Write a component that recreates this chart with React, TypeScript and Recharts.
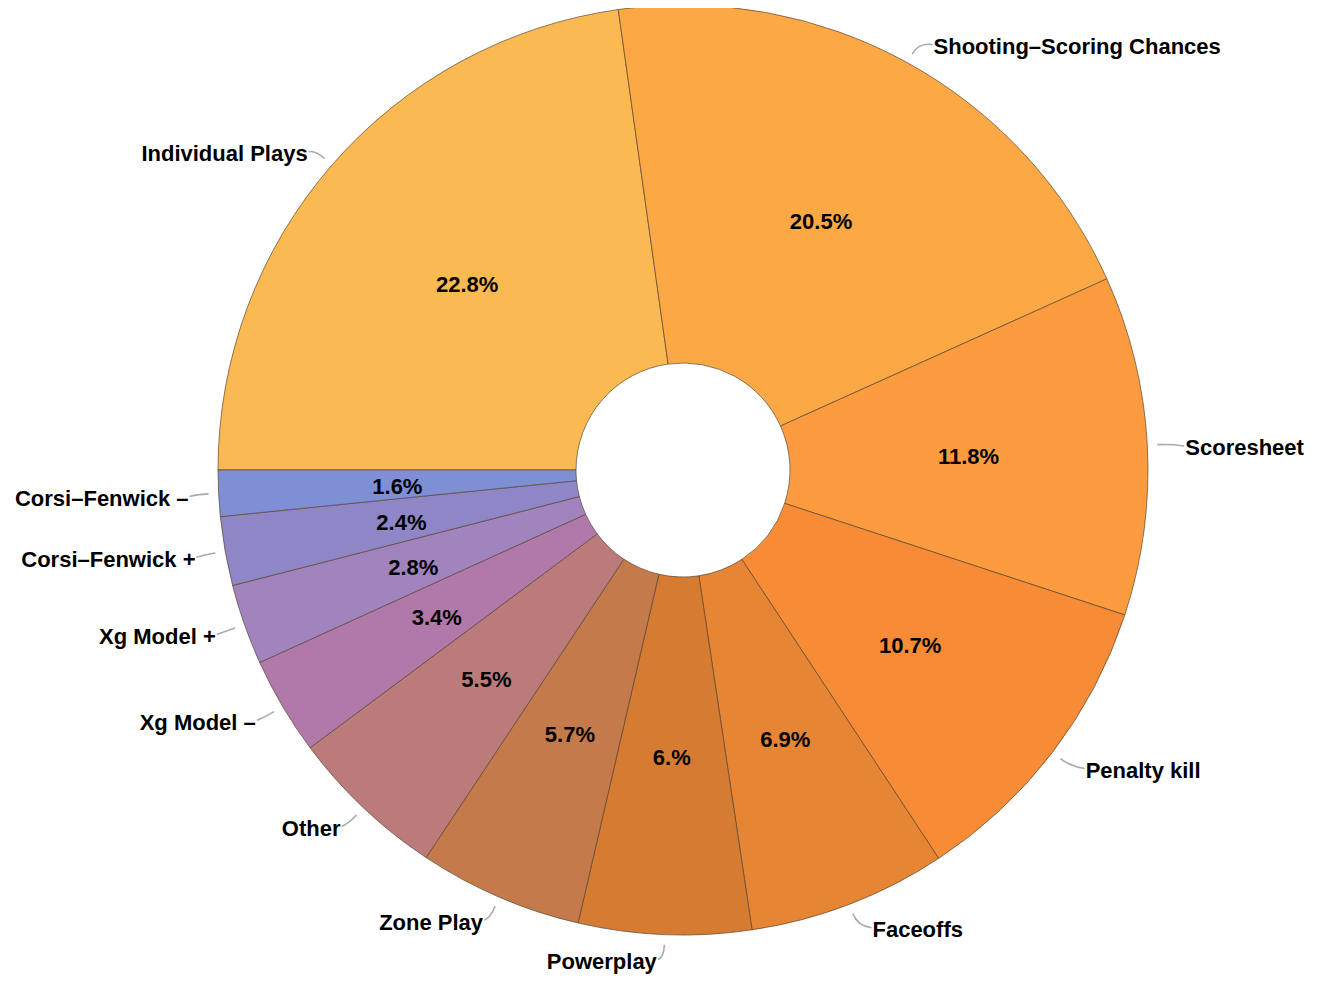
import { PieChart, Pie, Cell } from 'recharts';

const categories = [
  'Individual Plays',
  'Shooting\u2013Scoring Chances',
  'Scoresheet',
  'Penalty kill',
  'Faceoffs',
  'Powerplay',
  'Zone Play',
  'Other',
  'Xg Model \u2013',
  'Xg Model +',
  'Corsi\u2013Fenwick +',
  'Corsi\u2013Fenwick \u2013',
];

const shares = [22.8, 20.5, 11.8, 10.7, 6.9, 6.0, 5.7, 5.5, 3.4, 2.8, 2.4, 1.6];

const colors = [
  '#FBBA51',
  '#FCA845',
  '#FD9C3E',
  '#F88B35',
  '#E68533',
  '#D57B32',
  '#C47A4A',
  '#BB7B7A',
  '#B079AA',
  '#A183BE',
  '#8F86C8',
  '#7F8FD5',
];

const data = categories.map((name, i) => ({ name, value: shares[i] }));

const RAD = Math.PI / 180;
const FONT = '"Liberation Sans", Arial, sans-serif';

// Mathematica style: whole numbers print as "6.%"
const fmt = (v: number) => (Number.isInteger(v) ? `${v}.%` : `${v}%`);

function renderLabel(props: any) {
  const { cx, cy, midAngle, innerRadius, outerRadius, value, name } = props;
  const cos = Math.cos(-midAngle * RAD);
  const sin = Math.sin(-midAngle * RAD);
  const rm = (innerRadius + outerRadius) / 2;
  const px = cx + rm * cos;
  const py = cy + rm * sin;

  const r0 = outerRadius + 10;
  const r1 = outerRadius + 23;
  const x0 = cx + r0 * cos;
  const y0 = cy + r0 * sin;
  const x1 = cx + r1 * cos;
  const y1 = cy + r1 * sin;
  const right = cos >= 0;
  const x2 = x1 + (right ? 14 : -6);
  const y2 = y1 + 2;

  return (
    <g>
      <text
        x={px}
        y={py + 2}
        textAnchor="middle"
        dominantBaseline="central"
        fontFamily={FONT}
        fontWeight="bold"
        fontSize={22}
        fill="#000"
      >
        {fmt(value)}
      </text>
      <path
        d={`M${x0},${y0} Q${x1},${y1} ${x2},${y2}`}
        stroke="#aaaaaa"
        strokeWidth={1.6}
        fill="none"
      />
      <text
        x={x2 + (right ? 1 : -1)}
        y={y2 + 2}
        textAnchor={right ? 'start' : 'end'}
        dominantBaseline="central"
        fontFamily={FONT}
        fontWeight="bold"
        fontSize={22}
        fill="#000"
      >
        {name}
      </text>
    </g>
  );
}

export default function App() {
  return (
    <PieChart width={1310} height={967}>
      <Pie
        data={data}
        dataKey="value"
        nameKey="name"
        cx={670}
        cy={457}
        innerRadius={107}
        outerRadius={465}
        startAngle={180}
        endAngle={-180}
        stroke="#5a4632"
        strokeWidth={0.7}
        label={renderLabel}
        labelLine={false}
        isAnimationActive={false}
      >
        {data.map((d, i) => (
          <Cell key={d.name} fill={colors[i]} />
        ))}
      </Pie>
    </PieChart>
  );
}
